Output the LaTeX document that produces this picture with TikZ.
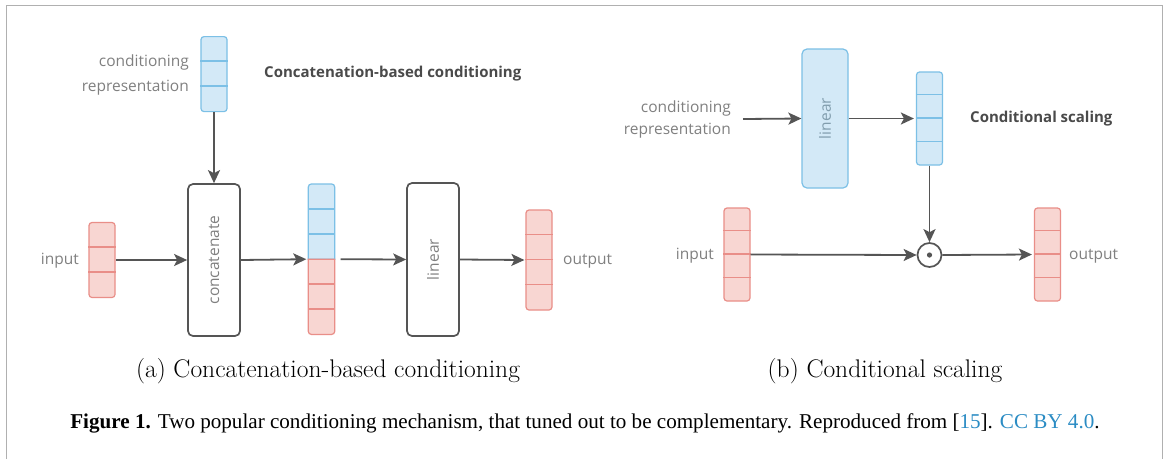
\documentclass[tikz,border=0pt]{standalone}
\usepackage{fontspec}
\usetikzlibrary{arrows.meta,calc}
\newfontfamily\dfont{Open Sans}
\newfontfamily\capfont{Liberation Serif}
\definecolor{blueS}{HTML}{7CC0E6}
\definecolor{blueF}{HTML}{D3E9F7}
\definecolor{redS}{HTML}{E98E88}
\definecolor{redF}{HTML}{F8D6D2}
\definecolor{arrowC}{HTML}{555555}
\definecolor{textC}{HTML}{808080}
\definecolor{titleC}{HTML}{4A4A4A}
\definecolor{linkC}{HTML}{2B8CC4}
\definecolor{frameC}{HTML}{B0B0B0}
\tikzset{
  vecb/.style={draw=blueS, fill=blueF, rounded corners=3, line width=1.2, inner sep=0, minimum width=26},
  vecr/.style={draw=redS, fill=redF, rounded corners=3, line width=1.2, inner sep=0, minimum width=26},
  divb/.style={draw=blueS, line width=1.2},
  divr/.style={draw=redS, line width=1.2},
  arr/.style={-{Stealth[length=13,width=12,inset=3]}, draw=arrowC, fill=arrowC, line width=1.8},
  lbl/.style={text=textC, font=\dfont\fontsize{15.5}{18}\selectfont, inner sep=0},
  ttl/.style={text=titleC, font=\dfont\bfseries\fontsize{15}{18}\selectfont, inner sep=0},
  rottxt/.style={text=textC, font=\dfont\fontsize{15.5}{18}\selectfont, rotate=90},
  opbox/.style={draw=arrowC, line width=1.7, rounded corners=5, inner sep=0},
  subcap/.style={font=\fontsize{25.5}{30}\selectfont, inner sep=0},
  figcap/.style={font=\capfont\fontsize{21.1}{25}\selectfont, inner sep=0},
}
\begin{document}
\begin{tikzpicture}[x=1pt,y=-1pt]
\useasboundingbox (0,0) rectangle (1168,459);
\fill[white] (0,0) rectangle (1168,459);
\draw[frameC, line width=1] (6,459) -- (6,5) -- (1162,5) -- (1162,459);

% ---------- panel (a) ----------
\node[vecb, minimum height=75, anchor=north] (cva) at (214,36) {};
\draw[divb] ([yshift=-25]cva.north west) -- ([yshift=-25]cva.north east);
\draw[divb] ([yshift=-50]cva.north west) -- ([yshift=-50]cva.north east);
\node[lbl, anchor=east] (cla1) at (189,62) {conditioning};
\node[lbl, anchor=east] (cla2) at (189,88) {representation};
\node[ttl, anchor=west] (tta) at (264,74) {Concatenation-based conditioning};

\node[opbox, minimum width=52, minimum height=152] (cat) at (214,260) {};
\node[rottxt] (catt) at (cat.center) {concatenate};

\node[vecr, minimum height=75] (iva) at (102,260) {};
\draw[divr] ([yshift=-25]iva.north west) -- ([yshift=-25]iva.north east);
\draw[divr] ([yshift=-50]iva.north west) -- ([yshift=-50]iva.north east);
\node[lbl, anchor=east] (ina) at (79,261) {input};

% mixed vector
\node[inner sep=0, minimum width=26, minimum height=150, anchor=north] (mid) at (321.5,184) {};
\filldraw[draw=blueS, fill=blueF, line width=1.2]
  (mid.west) [rounded corners=3] -- (mid.north west) -- (mid.north east) [sharp corners] -- (mid.east) -- cycle;
\filldraw[draw=redS, fill=redF, line width=1.2]
  (mid.east) [rounded corners=3] -- (mid.south east) -- (mid.south west) [sharp corners] -- (mid.west) -- cycle;
\draw[divb] ([yshift=-25]mid.north west) -- ([yshift=-25]mid.north east);
\draw[divb] ([yshift=-50]mid.north west) -- ([yshift=-50]mid.north east);
\draw[divr] ([yshift=-100]mid.north west) -- ([yshift=-100]mid.north east);
\draw[divr] ([yshift=-125]mid.north west) -- ([yshift=-125]mid.north east);

\node[opbox, minimum width=52, minimum height=153] (lina) at (433,259.5) {};
\node[rottxt] (linat) at (lina.center) {linear};

\node[vecr, minimum height=100] (ova) at (539,260) {};
\draw[divr] ([yshift=-25]ova.north west) -- ([yshift=-25]ova.north east);
\draw[divr] ([yshift=-50]ova.north west) -- ([yshift=-50]ova.north east);
\draw[divr] ([yshift=-75]ova.north west) -- ([yshift=-75]ova.north east);
\node[lbl, anchor=west] (outa) at (563,261) {output};

\draw[arr] (cva.south) -- (cat.north);
\draw[arr] (iva.east) -- (cat.west);
\draw[arr] (cat.east) -- ([xshift=-2]mid.west);
\draw[arr] ([xshift=6]mid.east) -- (lina.west);
\draw[arr] (lina.east) -- ([xshift=-1]ova.west);

% ---------- panel (b) ----------
\node[lbl, anchor=east] (clb1) at (731,108) {conditioning};
\node[lbl, anchor=east] (clb2) at (731,131) {representation};
\coordinate (cinb) at (743,119);
\node[draw=blueS, fill=blueF, line width=1.2, rounded corners=5, inner sep=0, minimum width=46, minimum height=139] (linb) at (825,118.5) {};
\node[rottxt, text=blueS!60!black!70] (linbt) at (linb.center) {linear};

\node[vecb, minimum height=93] (cvb) at (929.5,118.5) {};
\draw[divb] ([yshift=-23.25]cvb.north west) -- ([yshift=-23.25]cvb.north east);
\draw[divb] ([yshift=-46.5]cvb.north west) -- ([yshift=-46.5]cvb.north east);
\draw[divb] ([yshift=-69.75]cvb.north west) -- ([yshift=-69.75]cvb.north east);
\node[ttl, anchor=west] (ttb) at (970,119) {Conditional scaling};

\node[circle, draw=arrowC, line width=1.7, minimum size=24, inner sep=0] (odot) at (929.5,255) {};
\fill[arrowC] (odot.center) circle (2.6);

\node[vecr, minimum height=93] (ivb) at (737,254.5) {};
\draw[divr] ([yshift=-23.25]ivb.north west) -- ([yshift=-23.25]ivb.north east);
\draw[divr] ([yshift=-46.5]ivb.north west) -- ([yshift=-46.5]ivb.north east);
\draw[divr] ([yshift=-69.75]ivb.north west) -- ([yshift=-69.75]ivb.north east);
\node[lbl, anchor=east] (inb) at (714,256) {input};

\node[vecr, minimum height=93] (ovb) at (1047.5,254.5) {};
\draw[divr] ([yshift=-23.25]ovb.north west) -- ([yshift=-23.25]ovb.north east);
\draw[divr] ([yshift=-46.5]ovb.north west) -- ([yshift=-46.5]ovb.north east);
\draw[divr] ([yshift=-69.75]ovb.north west) -- ([yshift=-69.75]ovb.north east);
\node[lbl, anchor=west] (outb) at (1069,256) {output};

\draw[arr] (cinb) -- (linb.west);
\draw[arr] (linb.east) -- ([xshift=-2]cvb.west);
\draw[arr] (cvb.south) -- (odot.north);
\draw[arr] (ivb.east) -- (odot.west);
\draw[arr] (odot.east) -- ([xshift=-2]ovb.west);

% ---------- captions ----------
\node[subcap] (capa) at (328,371) {(a) Concatenation-based conditioning};
\node[subcap] (capb) at (885,371) {(b) Conditional scaling};
\node[figcap] (fig) at (585,423) {\textbf{Figure 1.} Two popular conditioning mechanism, that tuned out to be complementary. Reproduced from [\textcolor{linkC}{15}]. \textcolor{linkC}{CC BY 4.0}.};
\end{tikzpicture}
\end{document}
